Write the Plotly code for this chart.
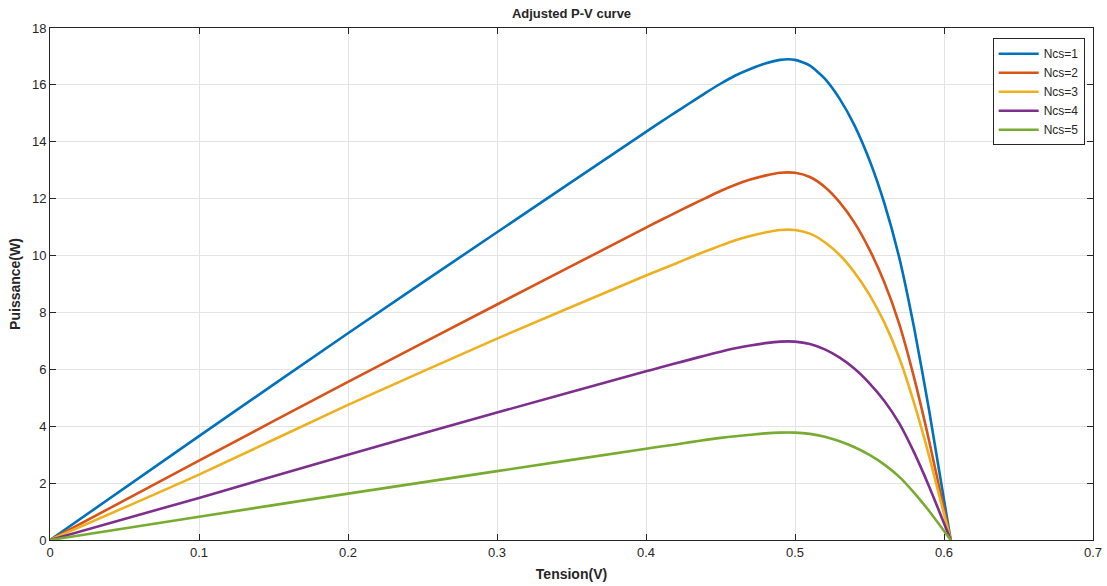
import plotly.graph_objects as go

tension = [0, 0.1, 0.2, 0.3, 0.4, 0.41, 0.42, 0.43, 0.44, 0.45, 0.46, 0.47, 0.48, 0.49, 0.5, 0.51, 0.52,
           0.53, 0.54, 0.55, 0.56, 0.57, 0.58, 0.59, 0.6045]

p_ncs1 = [0, 3.65, 7.27, 10.82, 14.35, 14.7, 15.04, 15.38, 15.72, 16.04, 16.33, 16.56, 16.75, 16.88, 16.88,
          16.68, 16.22, 15.51, 14.57, 13.35, 11.83, 9.92, 7.44, 4.56, 0]
p_ncs2 = [0, 2.79, 5.56, 8.28, 10.98, 11.25, 11.51, 11.77, 12.02, 12.27, 12.49, 12.67, 12.81, 12.91, 12.91,
          12.76, 12.41, 11.87, 11.15, 10.21, 9.05, 7.59, 5.69, 3.49, 0]
p_ncs3 = [0, 2.3, 4.75, 7.08, 9.3, 9.51, 9.72, 9.94, 10.15, 10.35, 10.54, 10.69, 10.81, 10.9, 10.9,
          10.77, 10.47, 10.02, 9.4, 8.62, 7.64, 6.4, 4.8, 2.95, 0]
p_ncs4 = [0, 1.48, 3.0, 4.48, 5.93, 6.07, 6.21, 6.35, 6.49, 6.62, 6.74, 6.84, 6.92, 6.975, 6.975,
          6.89, 6.7, 6.41, 6.02, 5.51, 4.89, 4.1, 3.07, 1.88, 0]
p_ncs5 = [0, 0.82, 1.63, 2.42, 3.21, 3.29, 3.36, 3.44, 3.52, 3.59, 3.65, 3.7, 3.75, 3.775, 3.775,
          3.73, 3.63, 3.47, 3.26, 2.99, 2.65, 2.22, 1.66, 1.02, 0]

series_names = ["Ncs=1", "Ncs=2", "Ncs=3", "Ncs=4", "Ncs=5"]
series_values = [p_ncs1, p_ncs2, p_ncs3, p_ncs4, p_ncs5]
colors = ["#0072BD", "#D95319", "#EDB120", "#7E2F8E", "#77AC30"]

x_ticks = [0, 0.1, 0.2, 0.3, 0.4, 0.5, 0.6, 0.7]
y_ticks = [0, 2, 4, 6, 8, 10, 12, 14, 16, 18]

fig = go.Figure()
for name, vals, col in zip(series_names, series_values, colors):
    fig.add_trace(go.Scatter(x=tension, y=vals, mode="lines", name=name,
                             line=dict(color=col, width=2.6, shape="spline", smoothing=0.6)))

axis_common = dict(showline=True, linecolor="#262626", linewidth=1, mirror="ticks",
                   ticks="inside", ticklen=6, tickcolor="#262626", automargin=False,
                   showgrid=True, gridcolor="#e3e3e3", gridwidth=1, zeroline=False,
                   tickfont=dict(family="Arial, Liberation Sans, sans-serif", size=13, color="#262626"))

fig.update_layout(
    width=1107, height=586,
    margin=dict(l=50, r=14, t=28, b=46),
    paper_bgcolor="white", plot_bgcolor="white",
    font=dict(family="Arial, Liberation Sans, sans-serif", color="#262626"),
    title=dict(text="<b>Adjusted P-V curve</b>", x=0.5, xref="paper", xanchor="center",
               y=1 - 13 / 586, yref="container", yanchor="middle",
               font=dict(size=13, color="#262626")),
    xaxis=dict(range=[0, 0.7], tickvals=x_ticks, ticktext=[str(v) for v in x_ticks],
               title=dict(text="<b>Tension(V)</b>", font=dict(size=14), standoff=10),
               **axis_common),
    yaxis=dict(range=[0, 18], tickvals=y_ticks,
               title=dict(text="<b>Puissance(W)</b>", font=dict(size=14), standoff=8),
               **axis_common),
    legend=dict(x=0.992, xanchor="right", y=0.98, yanchor="top",
                bgcolor="white", bordercolor="#262626", borderwidth=1,
                font=dict(size=12, color="#262626"), tracegroupgap=0,
                itemwidth=40),
    showlegend=True,
)

fig.write_html("out.html", config={"displayModeBar": False},
               post_script="document.body.style.margin='0px';document.body.style.padding='0px';")
